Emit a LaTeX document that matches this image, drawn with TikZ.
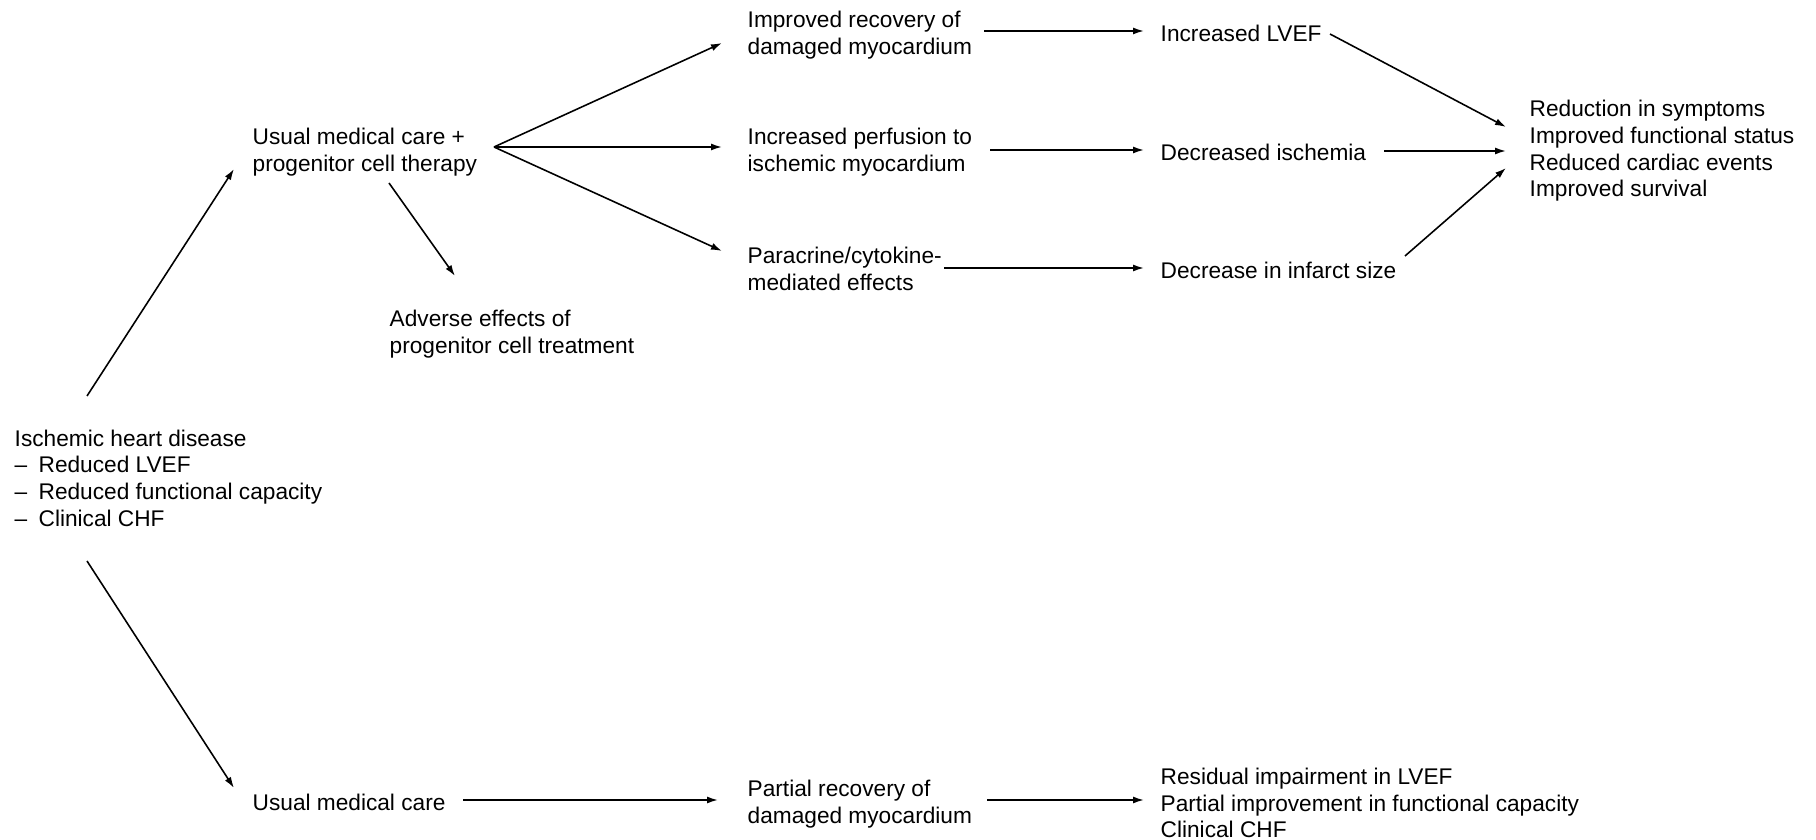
\documentclass[tikz,border=0pt]{standalone}
\usepackage{fontspec}
\setmainfont{Liberation Sans}
\usetikzlibrary{arrows.meta,calc}

\begin{document}
\begin{tikzpicture}
  [x=0.1mm, y=-0.1mm,
    every node/.style={anchor=west,inner sep=0pt,align=left,
      font=\fontsize{6.45pt}{7.6pt}\selectfont},
    arr/.style={draw,line width=0.45pt,-{Latex[length=1.1mm,width=0.7mm]}},
]
  \useasboundingbox (0,0) rectangle (1816,840);
  \node (ihd) at (14,478) {Ischemic heart disease\\
    –\hspace{.5em}Reduced LVEF\\
    –\hspace{.5em}Reduced functional capacity\\
    –\hspace{.5em}Clinical CHF};
  \node (combo) at (252,152) {Usual medical care +\\progenitor cell therapy};
  \node (usual) at (252,802) {Usual medical care};
  \node (adverse) at (389,334) {Adverse effects of\\progenitor cell treatment};
  \node (recov) at (747,35) {Improved recovery of\\damaged myocardium};
  \node (perf) at (747,152) {Increased perfusion to\\ischemic myocardium};
  \node (para) at (747,269) {Paracrine/cytokine-\\mediated effects};
  \node (partial) at (747,804) {Partial recovery of\\damaged myocardium};
  \node (lvef) at (1160,33) {Increased LVEF};
  \node (isch) at (1160,152) {Decreased ischemia};
  \node (infarct) at (1160,270) {Decrease in infarct size};
  \node (residual) at (1160,803) {Residual impairment in LVEF\\
    Partial improvement in functional capacity\\Clinical CHF};
  \node (outcome) at (1529,151) {Reduction in symptoms\\Improved functional status\\
    Reduced cardiac events\\Improved survival};
  \coordinate (fan) at ($(combo.west)+(242,-5)$);

  \draw[arr] ($(ihd.west)+(73,-82)$) -- ($(combo.west)+(-18,17)$);
  \draw[arr] ($(ihd.west)+(73,83)$) -- ($(usual.west)+(-18,-14)$);
  \draw[arr] ($(combo.west)+(137,31)$) -- ($(adverse.west)+(66,-58)$);
  \draw[arr] (fan) -- ($(recov.west)+(-25,8)$);
  \draw[arr] (fan) -- ($(perf.west)+(-25,-5)$);
  \draw[arr] (fan) -- ($(para.west)+(-25,-18)$);
  \draw[arr] ($(recov.west)+(237,-4)$) -- ($(lvef.west)+(-16,-2)$);
  \draw[arr] ($(perf.west)+(243,-2)$) -- ($(isch.west)+(-16,-2)$);
  \draw[arr] ($(para.west)+(197,-1)$) -- ($(infarct.west)+(-16,-2)$);
  \draw[arr] ($(lvef.west)+(170,1)$) -- ($(outcome.west)+(-23,-24)$);
  \draw[arr] ($(isch.west)+(224,-1)$) -- ($(outcome.west)+(-23,0)$);
  \draw[arr] ($(infarct.west)+(245,-14)$) -- ($(outcome.west)+(-23,17)$);
  \draw[arr] ($(usual.west)+(211,-2)$) -- ($(partial.west)+(-29,-4)$);
  \draw[arr] ($(partial.west)+(240,-4)$) -- ($(residual.west)+(-16,-3)$);
\end{tikzpicture}
\end{document}
